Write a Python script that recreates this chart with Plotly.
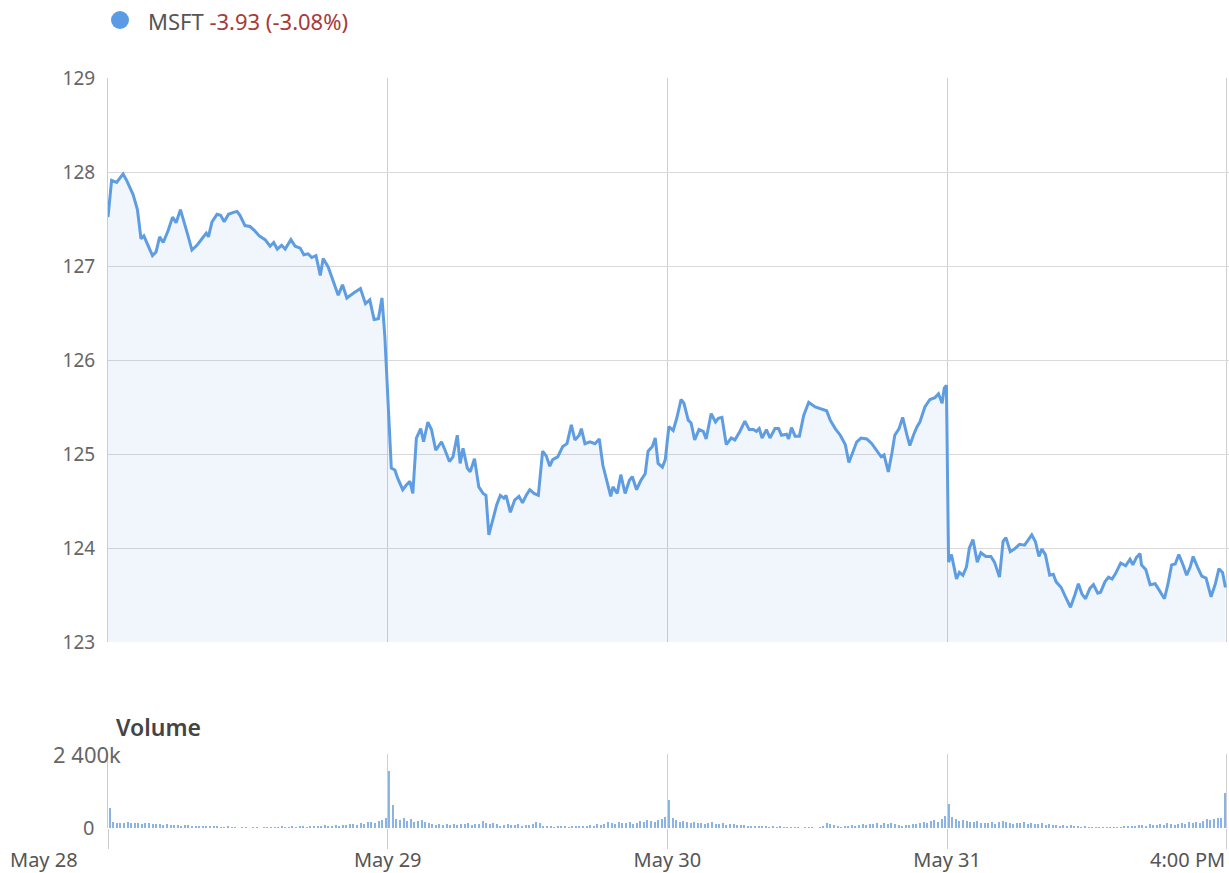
import plotly.graph_objects as go

# ---------------- data ----------------
DAY_LEN = 390  # trading minutes per session (9:30-16:00)
day_ticks = ["May 28", "May 29", "May 30", "May 31"]
close_label = "4:00 PM"
symbol = "MSFT"
change_text = "-3.93 (-3.08%)"

# minutes since open / price, per session
d1_min = [0, 5, 12, 21, 26, 35, 41, 46, 50, 56, 62, 67, 72, 77, 84, 90, 95, 101, 107, 112,
          117, 124, 131, 137, 140, 145, 152, 157, 162, 168, 175, 180, 184, 191, 198, 204, 211, 219, 226, 231,
          236, 242, 247, 255, 261, 268, 273, 279, 284, 290, 296, 300, 307, 314, 321, 327, 333, 342, 352, 359,
          365, 371, 377, 382, 386]
d1_px = [127.52, 127.91, 127.89, 127.98, 127.91, 127.76, 127.60, 127.29, 127.32, 127.21,
         127.11, 127.15, 127.31, 127.25, 127.38, 127.52, 127.46, 127.60, 127.45, 127.31,
         127.17, 127.22, 127.29, 127.35, 127.31, 127.47, 127.55, 127.54, 127.47, 127.55,
         127.57, 127.58, 127.54, 127.43, 127.42, 127.38, 127.32, 127.28, 127.21, 127.25,
         127.18, 127.22, 127.18, 127.28, 127.21, 127.19, 127.12, 127.13, 127.09, 127.11,
         126.90, 127.08, 126.99, 126.83, 126.69, 126.80, 126.66, 126.71, 126.76, 126.60,
         126.64, 126.43, 126.44, 126.66, 126.25]

d2_min = [5, 10, 14, 21, 26, 31, 35, 40, 46, 50, 56, 61, 67, 75, 80, 86, 91, 97, 101, 105,
          111, 115, 121, 127, 133, 137, 141, 147, 152, 157, 162, 165, 171, 177, 183, 188, 193, 198, 204, 210,
          216, 221, 226, 230, 237, 244, 250, 256, 261, 267, 270, 275, 282, 289, 295, 300, 306, 311, 314, 320,
          325, 331, 337, 341, 347, 353, 359, 363, 369, 373, 377, 383, 387]
d2_px = [124.85, 124.83, 124.74, 124.62, 124.67, 124.71, 124.58, 125.17, 125.27, 125.13,
         125.34, 125.26, 125.04, 125.13, 125.04, 124.92, 124.97, 125.20, 124.90, 125.06,
         124.85, 124.81, 124.95, 124.65, 124.58, 124.56, 124.14, 124.33, 124.46, 124.56,
         124.53, 124.56, 124.38, 124.51, 124.55, 124.48, 124.56, 124.62, 124.58, 124.56,
         125.03, 124.98, 124.87, 124.94, 124.97, 125.08, 125.11, 125.31, 125.15, 125.20,
         125.27, 125.11, 125.13, 125.11, 125.16, 124.88, 124.71, 124.55, 124.65, 124.58,
         124.78, 124.58, 124.72, 124.76, 124.62, 124.72, 124.79, 125.03, 125.08, 125.17,
         124.90, 124.86, 124.94]

d3_min = [2, 8, 13, 19, 23, 29, 33, 38, 44, 50, 54, 61, 67, 71, 76, 82, 89, 94, 101, 108,
          114, 120, 124, 128, 132, 138, 143, 150, 155, 159, 166, 169, 173, 178, 184, 190, 197, 206, 214, 222,
          227, 234, 241, 248, 253, 258, 264, 270, 278, 285, 292, 298, 302, 308, 313, 317, 323, 328, 334, 338,
          343, 348, 352, 359, 366, 373, 378, 383, 386, 389]
d3_px = [125.29, 125.25, 125.38, 125.58, 125.54, 125.36, 125.33, 125.15, 125.26, 125.24,
         125.16, 125.43, 125.34, 125.38, 125.39, 125.10, 125.17, 125.15, 125.24, 125.35,
         125.26, 125.26, 125.24, 125.27, 125.17, 125.26, 125.17, 125.27, 125.27, 125.20,
         125.21, 125.16, 125.28, 125.19, 125.19, 125.41, 125.55, 125.50, 125.48, 125.46,
         125.36, 125.27, 125.20, 125.10, 124.91, 125.01, 125.13, 125.17, 125.16, 125.11,
         125.04, 124.97, 124.99, 124.81, 125.01, 125.20, 125.27, 125.39, 125.20, 125.09,
         125.20, 125.29, 125.34, 125.50, 125.58, 125.60, 125.64, 125.54, 125.70, 125.73]

d4_min = [2, 6, 9, 13, 17, 22, 27, 31, 36, 42, 47, 54, 61, 66, 73, 78, 82, 88, 94, 101,
          108, 114, 118, 123, 128, 132, 137, 143, 148, 152, 159, 165, 172, 178, 183, 188, 193, 199, 204, 210,
          214, 220, 225, 230, 235, 242, 249, 255, 259, 264, 269, 271, 277, 283, 290, 295, 303, 308, 313, 318,
          323, 329, 334, 339, 343, 349, 355, 361, 368, 371, 374, 379, 384, 388]
d4_px = [123.85, 123.93, 123.82, 123.67, 123.74, 123.71, 123.80, 124.00, 124.09, 123.85,
         123.95, 123.91, 123.91, 123.85, 123.69, 124.07, 124.11, 123.96, 123.99, 124.04,
         124.03, 124.09, 124.14, 124.07, 123.91, 123.99, 123.93, 123.71, 123.72, 123.64,
         123.58, 123.48, 123.37, 123.50, 123.62, 123.51, 123.46, 123.57, 123.61, 123.52,
         123.53, 123.64, 123.69, 123.67, 123.73, 123.84, 123.81, 123.88, 123.82, 123.90,
         123.94, 123.82, 123.77, 123.61, 123.62, 123.56, 123.46, 123.62, 123.82, 123.83,
         123.93, 123.82, 123.71, 123.80, 123.91, 123.80, 123.70, 123.68, 123.48, 123.55,
         123.62, 123.78, 123.74, 123.58]

# 5-minute volume, thousands of shares (78 bars per session)
VOL_STEP = 5
vol_d1 = [650, 180, 160, 170, 150, 190, 160, 150, 170, 140, 160, 150, 130,
          140, 120, 110, 130, 100, 90, 110, 80, 100, 90, 70, 60, 80,
          70, 60, 50, 70, 60, 40, 30, 50, 20, 30, 0, 40, 20,
          0, 20, 30, 0, 20, 30, 40, 20, 30, 50, 40, 30, 60,
          40, 50, 70, 40, 60, 80, 50, 70, 90, 60, 80, 100, 70,
          110, 90, 120, 140, 100, 160, 130, 180, 200, 170, 240, 260, 320]
vol_d2 = [1850, 750, 300, 250, 320, 220, 280, 200, 240, 260, 180, 150, 120,
          100, 130, 90, 120, 110, 140, 100, 130, 120, 150, 110, 140, 130,
          220, 160, 130, 170, 120, 80, 110, 130, 90, 100, 120, 80, 100,
          90, 140, 180, 160, 60, 50, 60, 40, 50, 60, 50, 40, 60,
          70, 50, 60, 80, 100, 70, 130, 90, 120, 180, 150, 130, 190,
          170, 150, 200, 140, 160, 220, 190, 250, 230, 180, 260, 300, 350]
vol_d3 = [900, 320, 250, 200, 220, 180, 160, 200, 150, 170, 140, 160, 180,
          120, 130, 150, 110, 140, 120, 100, 90, 110, 80, 70, 60, 50,
          60, 50, 40, 60, 30, 50, 40, 20, 30, 10, 20, 0, 10,
          20, 10, 0, 30, 60, 150, 130, 90, 70, 40, 60, 50, 90,
          70, 110, 130, 100, 140, 120, 150, 110, 170, 130, 150, 120, 90,
          70, 110, 100, 140, 120, 170, 200, 150, 220, 260, 200, 300, 380]
vol_d4 = [780, 350, 280, 220, 260, 240, 200, 180, 220, 170, 160, 150, 190,
          140, 200, 230, 210, 160, 140, 170, 150, 180, 130, 160, 140, 120,
          150, 100, 130, 90, 110, 80, 100, 70, 90, 60, 70, 40, 50,
          30, 40, 30, 20, 30, 20, 10, 20, 30, 40, 60, 50, 70,
          60, 90, 110, 80, 120, 100, 90, 130, 110, 150, 120, 100, 140,
          160, 130, 180, 150, 200, 170, 240, 280, 260, 300, 320, 340, 1150]

# ---------------- build series ----------------
sessions = [(d1_min, d1_px), (d2_min, d2_px), (d3_min, d3_px), (d4_min, d4_px)]
xs, ys = [], []
for d, (mins, pxs) in enumerate(sessions):
    xs += [d * DAY_LEN + m for m in mins]
    ys += pxs

vx, vy = [], []
for d, vols in enumerate([vol_d1, vol_d2, vol_d3, vol_d4]):
    vx += [d * DAY_LEN + i * VOL_STEP + VOL_STEP / 2 for i in range(len(vols))]
    vy += vols

n_days = len(sessions)
FONT = "Noto Sans"
GRID = "#d9d9d9"
LINE = "#5f9de2"

fig = go.Figure()
fig.add_trace(go.Scatter(
    x=xs, y=ys, mode="lines", name=symbol,
    line=dict(color=LINE, width=3),
    fill="tozeroy", fillcolor="rgba(95,157,226,0.09)",
    xaxis="x", yaxis="y", hoverinfo="skip",
))
fig.add_trace(go.Bar(
    x=vx, y=vy, width=2.0, name="Volume",
    marker=dict(color="#8ab4e6", line=dict(width=0)),
    xaxis="x2", yaxis="y2", hoverinfo="skip",
))

tickvals = [d * DAY_LEN for d in range(n_days + 1)]
ticktext = [""] + day_ticks[1:] + [""]

fig.update_layout(
    width=1229, height=873,
    margin=dict(l=108, r=0, t=78, b=45, autoexpand=False),
    paper_bgcolor="white", plot_bgcolor="white",
    showlegend=False,
    bargap=0,
    font=dict(family=FONT, color="#666666"),
    xaxis=dict(
        domain=[0, 1], range=[0, n_days * DAY_LEN + 3], anchor="y",
        tickvals=tickvals, showticklabels=False, showgrid=True,
        gridcolor="#cfcfcf", gridwidth=1, zeroline=False, ticks="",
        automargin=False,
    ),
    yaxis=dict(
        domain=[0.248, 1], range=[123, 129], dtick=1, anchor="x",
        gridcolor=GRID, gridwidth=1, zeroline=False,
        showline=True, linecolor="#cccccc", linewidth=1,
        tickfont=dict(size=19, color="#666666", family=FONT),
        ticklabelstandoff=8, automargin=False,
    ),
    xaxis2=dict(
        domain=[0, 1], matches="x", anchor="y2",
        tickvals=tickvals, ticktext=ticktext,
        showgrid=True, gridcolor="#cfcfcf", zeroline=False,
        ticks="outside", ticklen=20, tickcolor="#cccccc", tickwidth=1,
        tickfont=dict(size=20, color="#555555", family=FONT),
        ticklabelstandoff=-6,
        automargin=False,
    ),
    yaxis2=dict(
        domain=[0, 0.0987], range=[0, 2400], anchor="x2",
        tickvals=[0, 2400], showticklabels=False,
        gridcolor=GRID, zeroline=False,
        showline=True, linecolor="#cccccc", linewidth=1,
        automargin=False,
    ),
)

# legend marker: circle centred 12 px right of the plot's left edge, 58 px above its top
fig.add_shape(
    type="circle", xref="paper", yref="paper",
    xsizemode="pixel", ysizemode="pixel", xanchor=0, yanchor=1,
    x0=3, x1=21, y0=49, y1=67,
    fillcolor="#5b9be6", line=dict(width=0),
)

annotations = [
    dict(text="2 400k", x=0, xref="paper", xshift=-21, xanchor="center",
         y=2400, yref="y2", yanchor="middle", showarrow=False,
         font=dict(size=22, color="#666666", family=FONT)),
    dict(text="0", x=0, xref="paper", xshift=-20, xanchor="center",
         y=0, yref="y2", yanchor="middle", showarrow=False,
         font=dict(size=20, color="#666666", family=FONT)),
    dict(text="Volume", x=0, xref="paper", xshift=6, xanchor="left",
         y=0.1347, yref="paper", yanchor="middle", showarrow=False,
         font=dict(size=23, color="#444444", family=FONT, weight=600)),
    dict(text=day_ticks[0], x=0, xref="x2", xshift=-28, xanchor="right",
         y=0, yref="paper", yshift=-31, yanchor="middle", showarrow=False,
         font=dict(size=20, color="#555555", family=FONT)),
    dict(text=close_label, x=n_days * DAY_LEN, xref="x2", xanchor="right",
         y=0, yref="paper", yshift=-31, yanchor="middle", showarrow=False,
         font=dict(size=20, color="#555555", family=FONT)),
    dict(text=f"<span style='color:#555555'>{symbol}</span> "
              f"<span style='color:#a83a3a'>{change_text}</span>",
         x=0, xref="paper", xshift=38, xanchor="left",
         y=1, yref="paper", yshift=57, yanchor="middle", showarrow=False,
         font=dict(size=22, family=FONT)),
]
fig.update_layout(annotations=annotations)

fig.write_html(
    "out.html",
    config={"displayModeBar": False},
    post_script="document.body.style.margin='0';document.body.style.padding='0';"
                "document.body.style.overflow='hidden';",
)
